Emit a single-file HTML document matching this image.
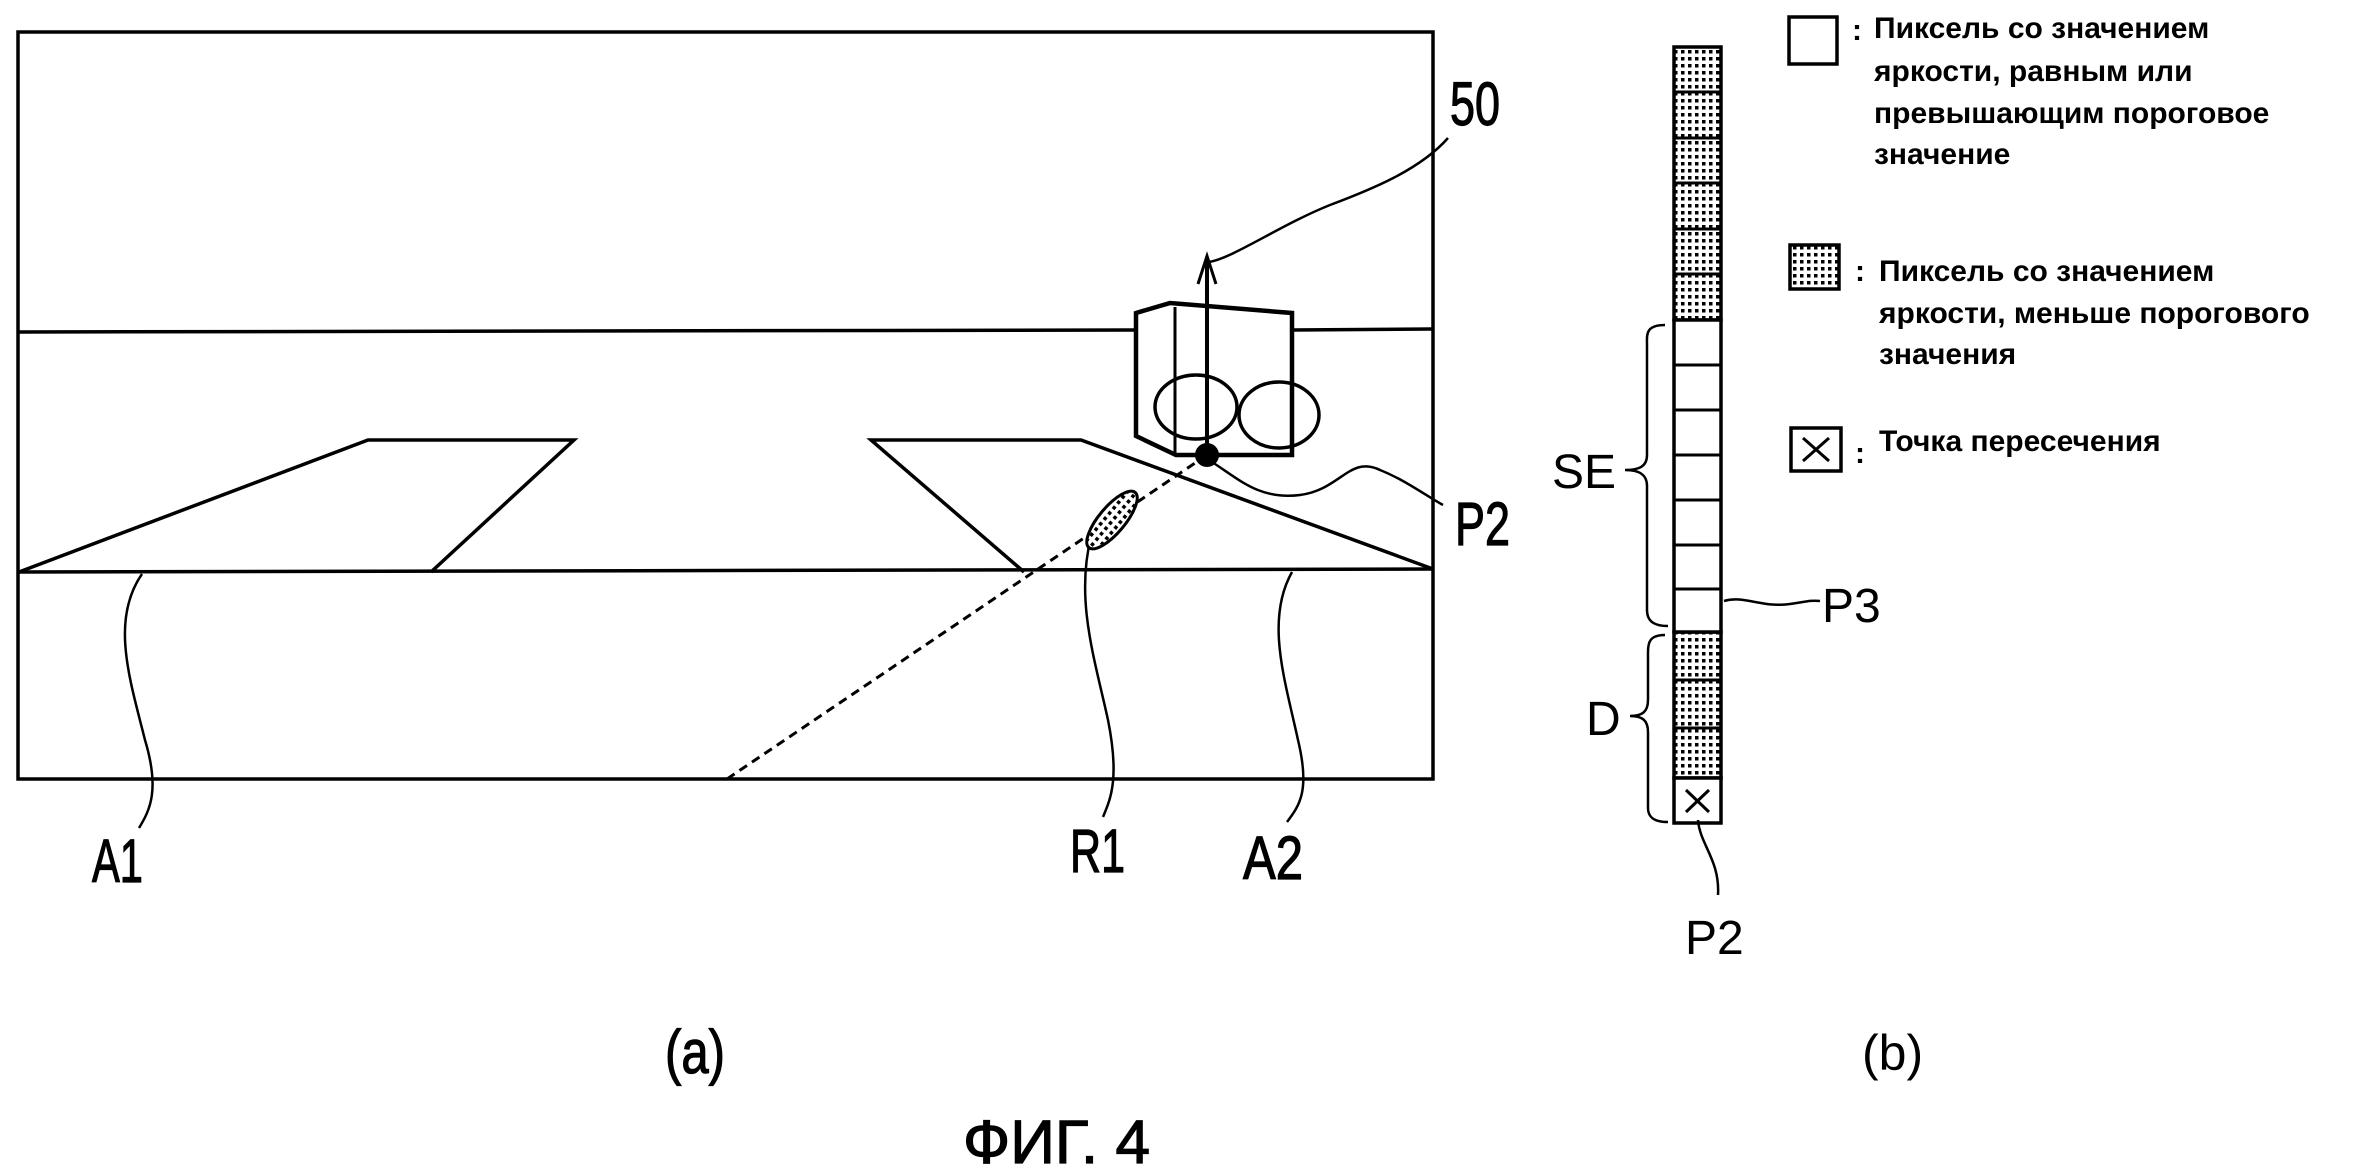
<!DOCTYPE html>
<html><head><meta charset="utf-8"><style>
html,body{margin:0;padding:0;background:#fff;}
svg{display:block;}
text{font-family:"Liberation Sans",sans-serif;fill:#000;}
</style></head><body>
<svg width="2378" height="1174" viewBox="0 0 2378 1174" xmlns="http://www.w3.org/2000/svg">
<defs>
<pattern id="dots" width="7" height="7" patternUnits="userSpaceOnUse">
<rect width="7" height="7" fill="#fff"/>
<rect x="1" y="1" width="3.5" height="3.5" fill="#000"/>
</pattern>
</defs>
<g fill="none" stroke="#000" stroke-width="3.5">
<rect x="18" y="32" width="1415" height="747"/>
<line x1="18" y1="332" x2="1136" y2="330"/>
<line x1="1292" y1="330" x2="1433" y2="329"/>
<line x1="18" y1="572" x2="1433" y2="569"/>
<polyline points="19,572 368,440 574,440 431,572"/>
<polyline points="1024,572 871,440 1081,440 1433,569"/>
<polygon points="1136,313 1170,303 1292,313 1292,455 1176,455 1136,436" stroke-width="4.5"/>
<line x1="1175" y1="307" x2="1175" y2="455" stroke-width="3"/>
<ellipse cx="1196" cy="407" rx="41" ry="32"/>
<ellipse cx="1279" cy="415" rx="40" ry="33"/>
<line x1="1207" y1="455" x2="1207" y2="258" stroke-width="4"/>
<polyline points="1198,284 1207,256 1216,284" stroke-width="3"/>
<line x1="1207" y1="455" x2="727" y2="779" stroke-dasharray="9,6" stroke-width="3"/>
<path d="M1448,138 C1420,170 1370,190 1330,205 C1280,225 1230,260 1208,262" stroke-width="2.5"/>
<path d="M1212,462 C1240,480 1260,500 1300,495 C1340,490 1350,455 1380,470 C1405,480 1425,495 1443,505" stroke-width="2.5"/>
<path d="M142,574 C110,620 130,680 145,740 C160,790 150,810 139,828" stroke-width="2.5"/>
<path d="M1091,537 C1075,600 1095,660 1108,720 C1120,780 1110,800 1103,817" stroke-width="2.5"/>
<path d="M1292,572 C1265,620 1285,680 1298,740 C1310,790 1300,805 1287,822" stroke-width="2.5"/>
</g>
<circle cx="1207" cy="455" r="12" fill="#000"/>
<ellipse cx="1112" cy="520" rx="36" ry="13" transform="rotate(-50 1112 520)" fill="url(#dots)" stroke="#000" stroke-width="3"/>
<g font-size="61" stroke="#000" stroke-width="1.2">
<text x="1450" y="125" textLength="50" lengthAdjust="spacingAndGlyphs">50</text>
<text x="1455" y="545" textLength="55" lengthAdjust="spacingAndGlyphs">P2</text>
<text x="92" y="882" textLength="51" lengthAdjust="spacingAndGlyphs">A1</text>
<text x="1070" y="872" textLength="55" lengthAdjust="spacingAndGlyphs">R1</text>
<text x="1243" y="879" textLength="60" lengthAdjust="spacingAndGlyphs">A2</text>
<text x="665" y="1073" textLength="60" lengthAdjust="spacingAndGlyphs">(a)</text>
<text x="963" y="1163" textLength="187" lengthAdjust="spacingAndGlyphs">ФИГ. 4</text>
</g>
<text x="1862" y="1070" font-size="50">(b)</text>
<g stroke="#000" stroke-width="3.5">
<rect x="1674" y="47" width="47" height="273" fill="url(#dots)"/>
<rect x="1674" y="632" width="47" height="146" fill="url(#dots)"/>
<rect x="1674" y="320" width="47" height="312" fill="#fff"/>
<rect x="1674" y="778" width="47" height="45" fill="#fff"/>
</g>
<g stroke="#000" stroke-width="3">
<line x1="1674" y1="92" x2="1721" y2="92"/><line x1="1674" y1="138" x2="1721" y2="138"/>
<line x1="1674" y1="183" x2="1721" y2="183"/><line x1="1674" y1="229" x2="1721" y2="229"/>
<line x1="1674" y1="274" x2="1721" y2="274"/>
<line x1="1674" y1="365" x2="1721" y2="365"/><line x1="1674" y1="410" x2="1721" y2="410"/>
<line x1="1674" y1="455" x2="1721" y2="455"/><line x1="1674" y1="500" x2="1721" y2="500"/>
<line x1="1674" y1="545" x2="1721" y2="545"/><line x1="1674" y1="589" x2="1721" y2="589"/>
<line x1="1674" y1="680" x2="1721" y2="680"/><line x1="1674" y1="728" x2="1721" y2="728"/>
<line x1="1686" y1="790" x2="1709" y2="812"/><line x1="1709" y1="790" x2="1686" y2="812"/>
</g>
<g fill="none" stroke="#000" stroke-width="2.5">
<path d="M1665,325 C1645,325 1647,335 1647,345 L1647,455 C1647,466 1640,470 1625,470 C1640,470 1647,475 1647,486 L1647,610 C1647,622 1655,626 1668,626"/>
<path d="M1665,635 C1650,635 1648,642 1648,652 L1648,700 C1648,712 1642,716 1630,716 C1642,716 1648,720 1648,732 L1648,808 C1648,818 1655,822 1668,822"/>
<path d="M1724,601 C1745,595 1760,608 1790,604 C1805,602 1810,600 1820,601"/>
<path d="M1698,820 C1700,845 1720,860 1718,895"/>
</g>
<g font-size="48">
<text x="1552" y="488">SE</text>
<text x="1586" y="735">D</text>
<text x="1822" y="622">P3</text>
<text x="1685" y="954">P2</text>
</g>
<rect x="1789" y="17" width="48" height="47" fill="#fff" stroke="#000" stroke-width="3.5"/>
<rect x="1790" y="245" width="49" height="44" fill="url(#dots)" stroke="#000" stroke-width="3.5"/>
<rect x="1791" y="428" width="50" height="43" fill="#fff" stroke="#000" stroke-width="3.5"/>
<g stroke="#000" stroke-width="3"><line x1="1803" y1="438" x2="1829" y2="461"/><line x1="1829" y1="438" x2="1803" y2="461"/></g>
<g font-size="30" font-weight="bold">
<text x="1852" y="40">:</text>
<text x="1874" y="38">Пиксель со значением</text>
<text x="1874" y="81">яркости, равным или</text>
<text x="1874" y="123">превышающим пороговое</text>
<text x="1874" y="164">значение</text>
<text x="1855" y="281">:</text>
<text x="1879" y="281">Пиксель со значением</text>
<text x="1879" y="323">яркости, меньше порогового</text>
<text x="1879" y="364">значения</text>
<text x="1855" y="463">:</text>
<text x="1879" y="451">Точка пересечения</text>
</g>
</svg>
</body></html>
